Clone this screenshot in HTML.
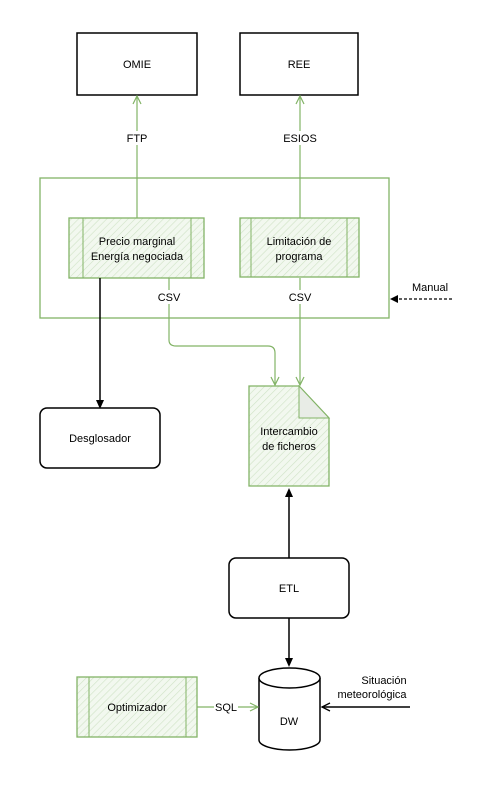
<!DOCTYPE html>
<html><head><meta charset="utf-8"><style>
html,body{margin:0;padding:0;background:#fff;}
text{font-family:"Liberation Sans",sans-serif;font-size:11px;fill:#000;}
</style></head><body>
<svg width="481" height="791" viewBox="0 0 481 791" xmlns="http://www.w3.org/2000/svg">
<defs>
<pattern id="h" width="5" height="5" patternUnits="userSpaceOnUse" patternTransform="rotate(45)">
<rect width="5" height="5" fill="#f2f8ef"/><line x1="0" y1="0" x2="0" y2="5" stroke="#cfe3c6" stroke-width="1.2"/>
</pattern>
</defs>
<rect width="481" height="791" fill="#fff"/>
<!-- top boxes -->
<rect x="77" y="33" width="120" height="62" fill="#fff" stroke="#000" stroke-width="1.5"/>
<text x="137" y="68" text-anchor="middle">OMIE</text>
<rect x="240" y="33" width="118" height="62" fill="#fff" stroke="#000" stroke-width="1.5"/>
<text x="299" y="68" text-anchor="middle">REE</text>
<!-- green arrows up -->
<g stroke="#82b366" stroke-width="1.2" fill="none">
<line x1="137" y1="218" x2="137" y2="96"/><polyline points="133,104 137,96 141,104"/>
<line x1="300" y1="218" x2="300" y2="96"/><polyline points="296,104 300,96 304,104"/>
</g>
<rect x="124" y="131" width="28" height="14" fill="#fff"/><text x="137" y="142" text-anchor="middle">FTP</text>
<rect x="280" y="131" width="40" height="14" fill="#fff"/><text x="300" y="142" text-anchor="middle">ESIOS</text>
<!-- outer rect -->
<rect x="40" y="178" width="349" height="140" fill="none" stroke="#82b366" stroke-width="1.3"/>
<!-- process boxes -->
<rect x="69" y="218" width="135" height="60" fill="url(#h)" stroke="#82b366" stroke-width="1.3"/>
<line x1="83" y1="218" x2="83" y2="278" stroke="#82b366"/><line x1="191" y1="218" x2="191" y2="278" stroke="#82b366"/>
<text x="137" y="245" text-anchor="middle">Precio marginal</text>
<text x="137" y="260" text-anchor="middle">Energía negociada</text>
<rect x="240" y="218" width="119" height="59" fill="url(#h)" stroke="#82b366" stroke-width="1.3"/>
<line x1="251" y1="218" x2="251" y2="277" stroke="#82b366"/><line x1="347" y1="218" x2="347" y2="277" stroke="#82b366"/>
<text x="299" y="245" text-anchor="middle">Limitación de</text>
<text x="299" y="260" text-anchor="middle">programa</text>
<!-- CSV arrows -->
<g stroke="#82b366" stroke-width="1.2" fill="none">
<path d="M169,278 V340 Q169,346 176,346 H268 Q275,346 275,353 V385"/>
<polyline points="271,377 275,385 279,377"/>
<line x1="300" y1="278" x2="300" y2="385"/><polyline points="296,377 300,385 304,377"/>
</g>
<rect x="156" y="290" width="26" height="14" fill="#fff"/><text x="169" y="301" text-anchor="middle">CSV</text>
<rect x="287" y="290" width="26" height="14" fill="#fff"/><text x="300" y="301" text-anchor="middle">CSV</text>
<!-- manual -->
<text x="430" y="291" text-anchor="middle">Manual</text>
<line x1="452" y1="299" x2="396" y2="299" stroke="#000" stroke-width="1.2" stroke-dasharray="3,2"/>
<polygon points="390,299 398,295 398,303" fill="#000"/>
<!-- desglosador -->
<line x1="100" y1="278" x2="100" y2="402" stroke="#000" stroke-width="1.5"/>
<polygon points="100,409 96,400 104,400" fill="#000"/>
<rect x="40" y="408" width="120" height="60" rx="7" fill="#fff" stroke="#000" stroke-width="1.5"/>
<text x="100" y="442" text-anchor="middle">Desglosador</text>
<!-- document -->
<path d="M249,386 H299 L329,418 V486 H249 Z" fill="url(#h)" stroke="#82b366" stroke-width="1.3"/>
<path d="M299,386 V418 H329 Z" fill="#e8ece6" stroke="#82b366" stroke-width="1"/>
<text x="289" y="435" text-anchor="middle">Intercambio</text>
<text x="289" y="450" text-anchor="middle">de ficheros</text>
<!-- ETL -->
<line x1="289" y1="558" x2="289" y2="495" stroke="#000" stroke-width="1.5"/>
<polygon points="289,488 285,497 293,497" fill="#000"/>
<rect x="229" y="558" width="120" height="60" rx="7" fill="#fff" stroke="#000" stroke-width="1.5"/>
<text x="289" y="592" text-anchor="middle">ETL</text>
<line x1="289" y1="618" x2="289" y2="660" stroke="#000" stroke-width="1.5"/>
<polygon points="289,667 285,658 293,658" fill="#000"/>
<!-- DW -->
<path d="M259,678 V740 A30.5,10 0 0 0 320,740 V678" fill="#fff" stroke="#000" stroke-width="1.5"/>
<ellipse cx="289.5" cy="678" rx="30.5" ry="10" fill="#fff" stroke="#000" stroke-width="1.5"/>
<text x="289" y="725" text-anchor="middle">DW</text>
<!-- optimizador -->
<rect x="77" y="677" width="120" height="60" fill="url(#h)" stroke="#82b366" stroke-width="1.3"/>
<line x1="89" y1="677" x2="89" y2="737" stroke="#82b366"/><line x1="186" y1="677" x2="186" y2="737" stroke="#82b366"/>
<text x="137" y="711" text-anchor="middle">Optimizador</text>
<g stroke="#82b366" stroke-width="1.2" fill="none">
<line x1="197" y1="707" x2="258" y2="707"/><polyline points="250,703 258,707 250,711"/>
</g>
<rect x="214" y="700" width="24" height="14" fill="#fff"/><text x="226" y="711" text-anchor="middle">SQL</text>
<!-- situacion -->
<line x1="410" y1="707" x2="322" y2="707" stroke="#000" stroke-width="1.5"/>
<polyline points="330,703 322,707 330,711" fill="none" stroke="#000" stroke-width="1.3"/>
<text x="384" y="684" text-anchor="middle">Situación</text>
<text x="372" y="698" text-anchor="middle">meteorológica</text>
</svg>
</body></html>
